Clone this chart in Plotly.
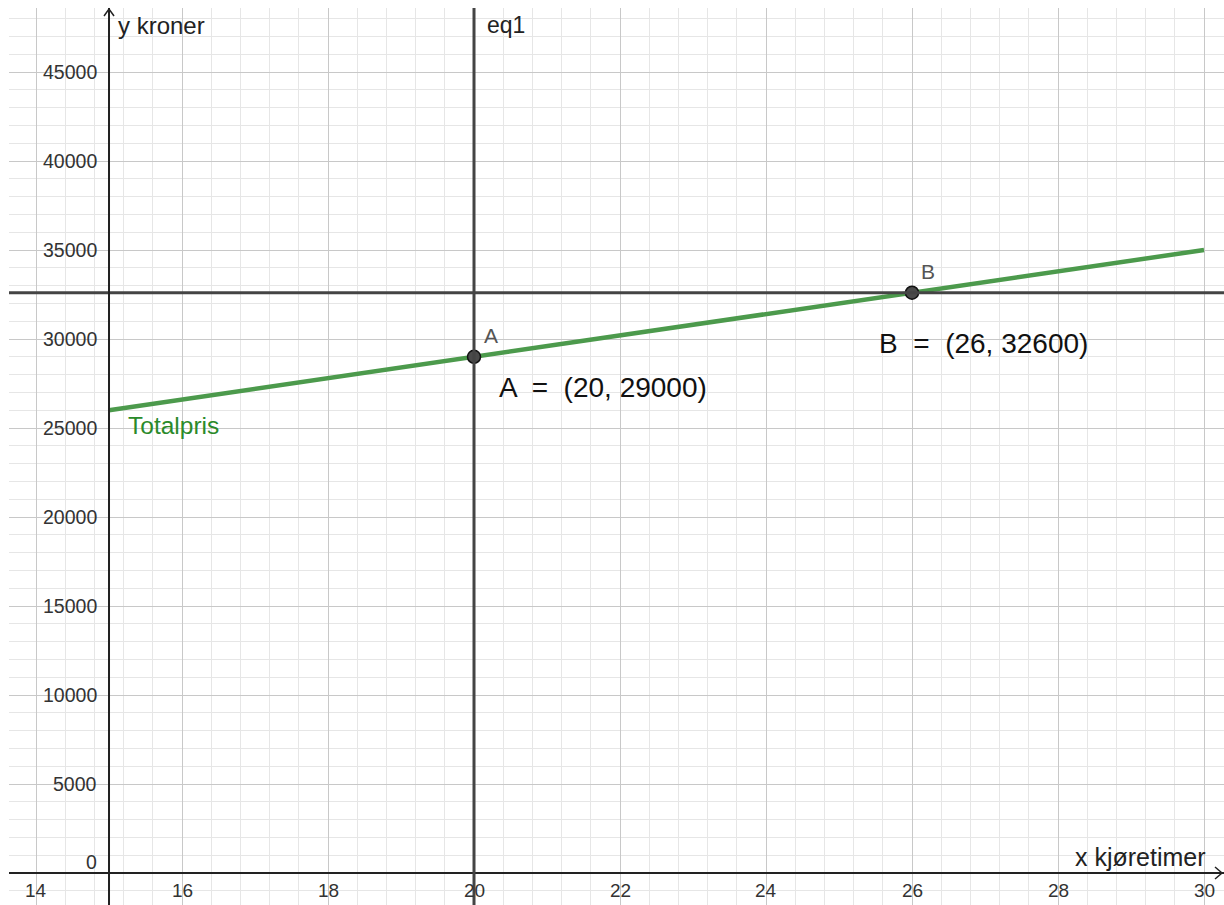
import plotly.graph_objects as go

# ---- data ----
hours_line = [15, 30]
price_line = [26000, 35000]
point_names = ["A", "B"]
point_x = [20, 26]
point_y = [29000, 32600]
eq1_x = 20
hline_y = 32600
x_ticks = [14, 16, 18, 20, 22, 24, 26, 28, 30]
y_ticks = [0, 5000, 10000, 15000, 20000, 25000, 30000, 35000, 40000, 45000]
y_axis_x = 15

FONT = "Liberation Sans, Arial, sans-serif"
DARK = "#444444"

fig = go.Figure()

# Totalpris line
fig.add_trace(go.Scatter(x=hours_line, y=price_line, mode="lines",
                         line=dict(color="#4C9A4C", width=4.5),
                         hoverinfo="skip", showlegend=False))

# eq1 vertical line and horizontal line
fig.add_shape(type="line", x0=eq1_x, x1=eq1_x, y0=0, y1=1, yref="paper",
              line=dict(color=DARK, width=3), layer="above")
fig.add_shape(type="line", x0=0, x1=1, xref="paper", y0=hline_y, y1=hline_y,
              line=dict(color=DARK, width=3), layer="above")

# y axis (at x = 15)
fig.add_shape(type="line", x0=y_axis_x, x1=y_axis_x, y0=0, y1=1, yref="paper",
              line=dict(color="#222222", width=2), layer="above")
# arrowheads
fig.add_shape(type="path", xref="x", yref="paper", xsizemode="pixel", ysizemode="pixel",
              xanchor=y_axis_x, yanchor=1,
              path="M -5 -8 L 0 -1 L 5 -8", line=dict(color="#222222", width=1.5), layer="above")
fig.add_shape(type="path", xref="paper", yref="y", xsizemode="pixel", ysizemode="pixel",
              xanchor=1, yanchor=0,
              path="M -9 6 L -2 0 L -9 -6", line=dict(color="#222222", width=1.5), layer="above")

# points (drawn above the shapes)
fig.add_trace(go.Scatter(x=point_x, y=point_y, mode="markers",
                         marker=dict(size=13, color="#4a4a4a",
                                     line=dict(color="#111111", width=1.5)),
                         showlegend=False))

ann = []
for xv in x_ticks:
    ann.append(dict(x=xv, y=0, text=str(xv), showarrow=False, yshift=-17,
                    font=dict(size=19, color="#333333", family=FONT)))
for yv in y_ticks:
    ann.append(dict(x=y_axis_x, y=yv, text=str(yv), showarrow=False,
                    xanchor="right", xshift=-10, yshift=(11 if yv == 0 else 0),
                    font=dict(size=19.5, color="#333333", family=FONT)))

ann += [
    dict(x=y_axis_x, y=1, yref="paper", text="y kroner", showarrow=False,
         xanchor="left", yanchor="top", xshift=7, yshift=-2,
         font=dict(size=24, color="#222222", family=FONT)),
    dict(x=1, xref="paper", y=0, text="x kjøretimer", showarrow=False,
         xanchor="right", yanchor="bottom", xshift=-16, yshift=0,
         font=dict(size=25, color="#222222", family=FONT)),
    dict(x=eq1_x, y=1, yref="paper", text="eq1", showarrow=False,
         xanchor="left", yanchor="top", xshift=11, yshift=-2,
         font=dict(size=23, color="#222222", family=FONT)),
    dict(x=15, y=26000, text="Totalpris", showarrow=False,
         xanchor="left", yanchor="top", xshift=17, yshift=0,
         font=dict(size=24.5, color="#2a8a2a", family=FONT)),
]
for n, xv, yv, dx, dy in zip(point_names, point_x, point_y, [8, 7], [21, 21]):
    ann.append(dict(x=xv, y=yv, text=n, showarrow=False, xanchor="left",
                    xshift=dx, yshift=dy, font=dict(size=21, color="#555555", family=FONT)))
ann.append(dict(x=point_x[0], y=point_y[0],
                text=f"A  =  ({point_x[0]}, {point_y[0]})", showarrow=False,
                xanchor="left", xshift=23, yshift=-31,
                font=dict(size=28, color="#111111", family=FONT)))
ann.append(dict(x=point_x[1], y=point_y[1],
                text=f"B  =  ({point_x[1]}, {point_y[1]})", showarrow=False,
                xanchor="left", xshift=-35, yshift=-51,
                font=dict(size=28, color="#111111", family=FONT)))

fig.update_layout(
    width=1224, height=905,
    margin=dict(l=9, r=0, t=8, b=0),
    paper_bgcolor="white", plot_bgcolor="white",
    annotations=ann, showlegend=False,
    xaxis=dict(range=[13.630, 30.274], tick0=14, dtick=2, showticklabels=False,
               showgrid=True, gridcolor="#c8c8c8", gridwidth=1, zeroline=False,
               minor=dict(tick0=14, dtick=0.4, showgrid=True, gridcolor="#e6e6e6", gridwidth=1),
               fixedrange=True),
    yaxis=dict(range=[-1798, 48596], tick0=0, dtick=5000, showticklabels=False,
               showgrid=True, gridcolor="#c8c8c8", gridwidth=1,
               zeroline=True, zerolinecolor="#222222", zerolinewidth=2,
               minor=dict(tick0=0, dtick=1000, showgrid=True, gridcolor="#e6e6e6", gridwidth=1),
               fixedrange=True),
)

fig.write_html("out.html", config={"displayModeBar": False},
               post_script="document.body.style.margin='0';")
